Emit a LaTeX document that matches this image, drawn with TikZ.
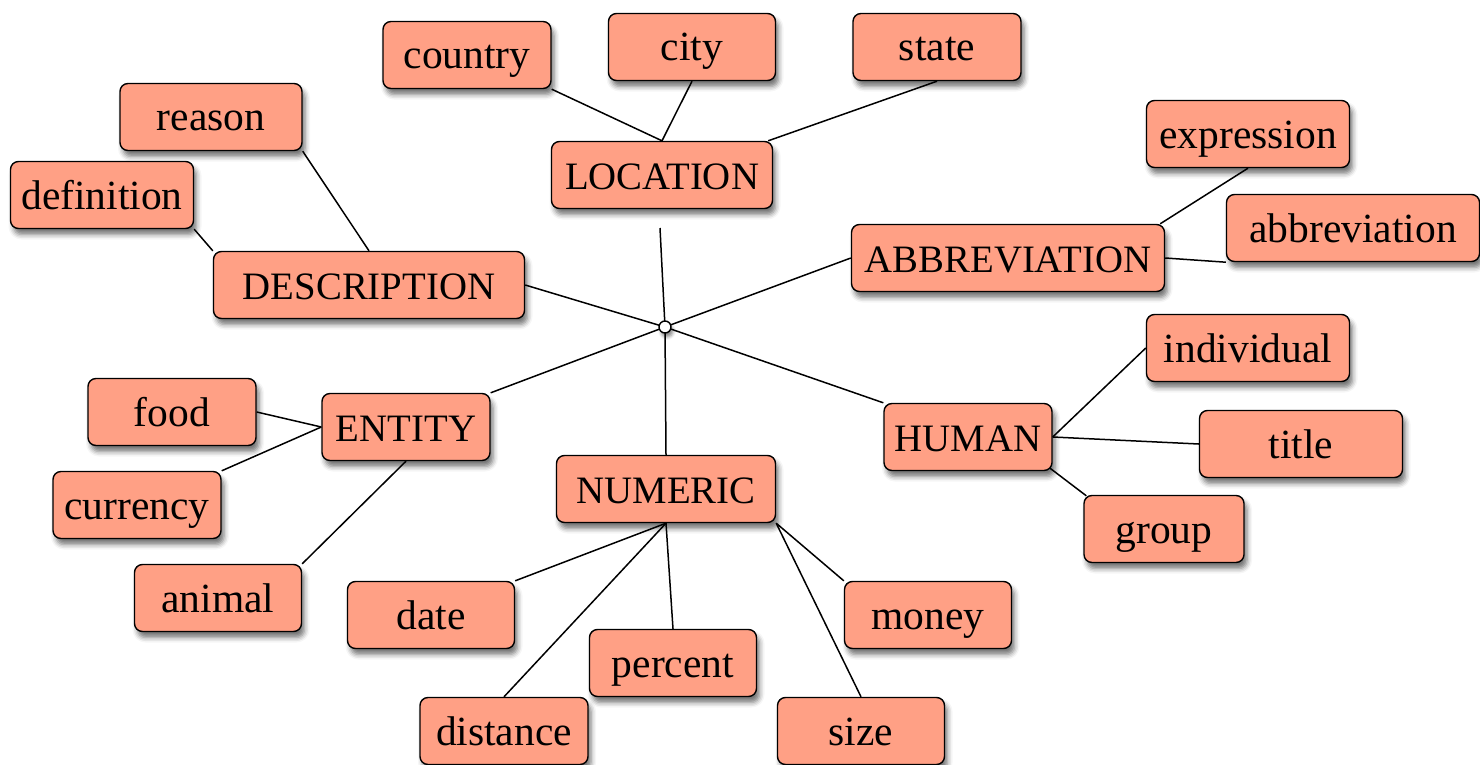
\documentclass[tikz,border=0pt]{standalone}
\usepackage{fontspec}
\setmainfont{Liberation Serif}
\usetikzlibrary{shadows.blur,backgrounds,calc}
\definecolor{salmon}{RGB}{255,160,133}
\begin{document}
\begin{tikzpicture}[x=1pt,y=-1pt,
  box/.style={draw=black, line width=1.4pt, fill=salmon, rounded corners=8pt,
    inner sep=0pt, minimum height=67pt, text height=36pt, text depth=8pt,
    font=\fontsize{41.5}{44}\selectfont,
    blur shadow={shadow xshift=3pt, shadow yshift=-6pt, shadow blur radius=5pt, shadow opacity=55}},
  cat/.style={box, font=\fontsize{38.8}{42}\selectfont},
  link/.style={line width=1.5pt, draw=black}]
\useasboundingbox (0,0) rectangle (1480,765);
% nodes
\node[box, minimum width=168pt] (country) at (467,55) {country};
\node[box, minimum width=167pt] (city) at (692,47) {city};
\node[box, minimum width=168pt] (state) at (937,47) {state};
\node[cat, minimum width=221pt] (LOCATION) at (662,175) {LOCATION};
\node[box, minimum width=182pt] (reason) at (211,117) {reason};
\node[box, minimum width=183pt] (definition) at (102,195) {definition};
\node[cat, minimum width=311pt] (DESCRIPTION) at (369,285) {DESCRIPTION};
\node[box, minimum width=203pt] (expression) at (1248,134) {expression};
\node[box, minimum width=253pt] (abbreviation) at (1353,228) {abbreviation};
\node[cat, minimum width=313pt] (ABBREVIATION) at (1008,258) {ABBREVIATION};
\node[box, minimum width=203pt] (individual) at (1248,348) {individual};
\node[box, minimum width=203pt] (title) at (1301,444) {title};
\node[box, minimum width=160pt] (group) at (1164,529) {group};
\node[cat, minimum width=168pt] (HUMAN) at (968,437) {HUMAN};
\node[box, minimum width=168pt] (food) at (172,412) {food};
\node[box, minimum width=168pt] (currency) at (137,505) {currency};
\node[box, minimum width=167pt] (animal) at (218,598) {animal};
\node[cat, minimum width=168pt] (ENTITY) at (406,427) {ENTITY};
\node[cat, minimum width=219pt] (NUMERIC) at (666,489) {NUMERIC};
\node[box, minimum width=167pt] (date) at (431,615) {date};
\node[box, minimum width=167pt] (percent) at (673,663) {percent};
\node[box, minimum width=168pt] (distance) at (504,731) {distance};
\node[box, minimum width=167pt] (size) at (861,731) {size};
\node[box, minimum width=167pt] (money) at (928,615) {money};
\node[circle, draw=black, line width=1.4pt, fill=white, minimum size=12pt, inner sep=0pt,
  blur shadow={shadow xshift=2pt, shadow yshift=-4pt, shadow blur radius=3pt, shadow opacity=45}] (hub) at (665,327) {};
\coordinate (locend) at (660,228);
% connectors
\begin{pgfonlayer}{background}
\draw[link] (country.south east) -- (LOCATION.north);
\draw[link] (city.south) -- (LOCATION.north);
\draw[link] (state.south) -- ($(LOCATION.north east)+(-5,0)$);
\draw[link] (hub.center) -- (locend);
\draw[link] (hub.center) -- (DESCRIPTION.east);
\draw[link] (hub.center) -- (ABBREVIATION.west);
\draw[link] (hub.center) -- (HUMAN.north west);
\draw[link] (hub.center) -- (ENTITY.north east);
\draw[link] (hub.center) -- (NUMERIC.north);
\draw[link] (reason.south east) -- (DESCRIPTION.north);
\draw[link] (definition.south east) -- (DESCRIPTION.north west);
\draw[link] (expression.south) -- ($(ABBREVIATION.north east)+(-5,0)$);
\draw[link] (ABBREVIATION.east) -- (abbreviation.south west);
\draw[link] (HUMAN.east) -- (individual.west);
\draw[link] (HUMAN.east) -- (title.west);
\draw[link] ($(HUMAN.south east)+(-4,-4)$) -- ($(group.north west)+(3,1)$);
\draw[link] (food.east) -- (ENTITY.west);
\draw[link] (currency.north east) -- (ENTITY.west);
\draw[link] (animal.north east) -- (ENTITY.south);
\draw[link] (NUMERIC.south) -- (date.north east);
\draw[link] (NUMERIC.south) -- (distance.north);
\draw[link] (NUMERIC.south) -- (percent.north);
\draw[link] (NUMERIC.south east) -- (money.north west);
\draw[link] (NUMERIC.south east) -- (size.north);
\end{pgfonlayer}
\end{tikzpicture}
\end{document}
